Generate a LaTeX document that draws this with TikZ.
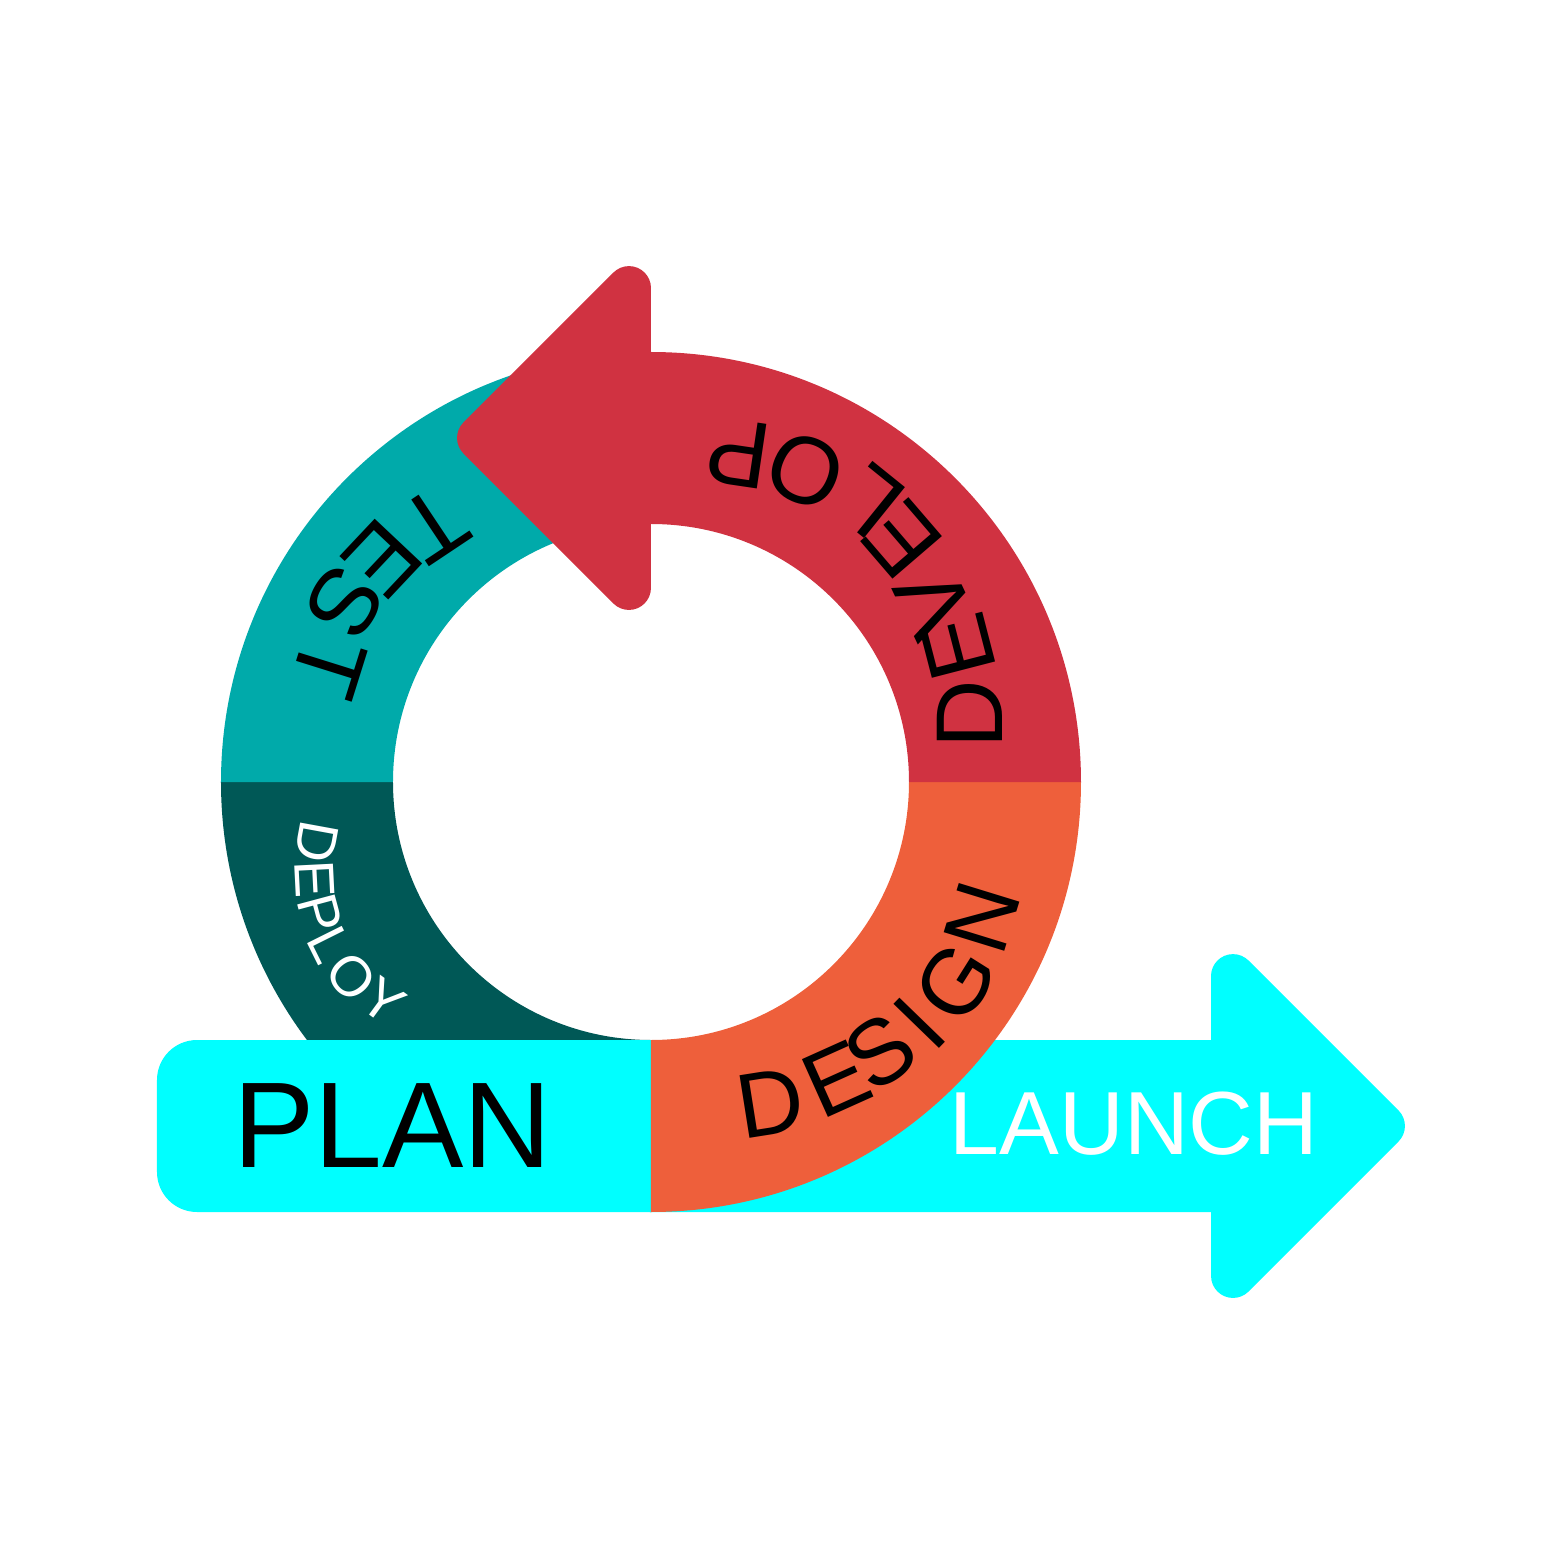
\documentclass[tikz,border=0pt]{standalone}
\usepackage{fontspec}
\setmainfont{Liberation Sans}
\definecolor{developred}{HTML}{D03241}
\definecolor{designorange}{HTML}{EE5F3B}
\definecolor{testteal}{HTML}{00AAAA}
\definecolor{deployteal}{HTML}{005856}
\definecolor{launchcyan}{HTML}{00FFFF}
\def\ringpart[#1](#2:#3){\fill[#1] (#2:430) arc (#2:#3:430) -- (#3:258) arc (#3:#2:258) -- cycle}
\tikzset{
  ringletter/.style={inner sep=0pt, anchor=center},
  bigword/.style={ringletter, text=black, font=\fontsize{27}{30}\selectfont},
  smallword/.style={ringletter, text=white, font=\fontsize{16}{18}\selectfont},
  barword/.style={inner sep=0pt}
}

\begin{document}
\begin{tikzpicture}[x=0.1mm, y=0.1mm]
	%%%%% START %%%%%
	\useasboundingbox (-651,-781) rectangle (912,782);
	
	\ringpart[deployteal](180:270);
	\ringpart[testteal](90:180);
	
	\fill[launchcyan, rounded corners=4mm] (-494,-430) rectangle (600,-258);
	\fill[launchcyan] (560,-194.1) arc (180:45:22) -- (747.5,-328.4) arc (45:-45:22) -- (597.6,-509.5) arc (-45:-180:22) -- cycle;
	
	\ringpart[designorange](270:360);
	\ringpart[developred](0:90);
	\fill[developred] (0,493.9) arc (0:135:22) -- (-187.5,359.6) arc (135:225:22) -- (-37.6,178.5) arc (225:360:22) -- cycle;
	
	\node[barword, text=black, font=\fontsize{34.7}{40}\selectfont] (plan) at (-258.5,-344) {PLAN};
	\node[barword, text=white, font=\fontsize{25.5}{28}\selectfont] (launch) at (483,-342) {LAUNCH};
	
	% letters sit on small circles of their own
	\begin{scope}[shift={(48.5,68)}]
		\foreach \ch/\ang/\rad [count=\i] in {D/0/270, E/14.5/267, V/25.3/260, E/40.7/267, L/51.1/273, O/66.5/265, P/81.6/264}
			\node[bigword, rotate=\ang+90] (develop\i) at (\ang:\rad) {\ch};
	\end{scope}
	\begin{scope}[shift={(78,-57.3)}]
		\foreach \ch/\ang/\rad [count=\i] in {D/-81/267, E/-65.8/263, S/-54.7/261, I/-44.1/265, G/-32.2/268, N/-17.1/265}
			\node[bigword, font=\fontsize{26.2}{29}\selectfont, rotate=\ang+90] (design\i) at (\ang:\rad) {\ch};
	\end{scope}
	\begin{scope}[shift={(-70.8,36.7)}]
		\foreach \ch/\ang/\rad [count=\i] in {T/123.7/265, E/136.7/272, S/148.8/275, T/162.6/263}
			\node[bigword, rotate=\ang+90] (test\i) at (\ang:\rad) {\ch};
	\end{scope}
	\begin{scope}[shift={(-173.7,-89.4)}]
		\foreach \ch/\ang/\rad [count=\i] in {D/169.6/163, E/182.9/163, P/195/163, L/206.5/165, O/220/164, Y/233.8/160}
			\node[smallword, rotate=\ang+90] (deploy\i) at (\ang:\rad) {\ch};
	\end{scope}
	
	%%%%% END %%%%%
\end{tikzpicture}
\end{document}
